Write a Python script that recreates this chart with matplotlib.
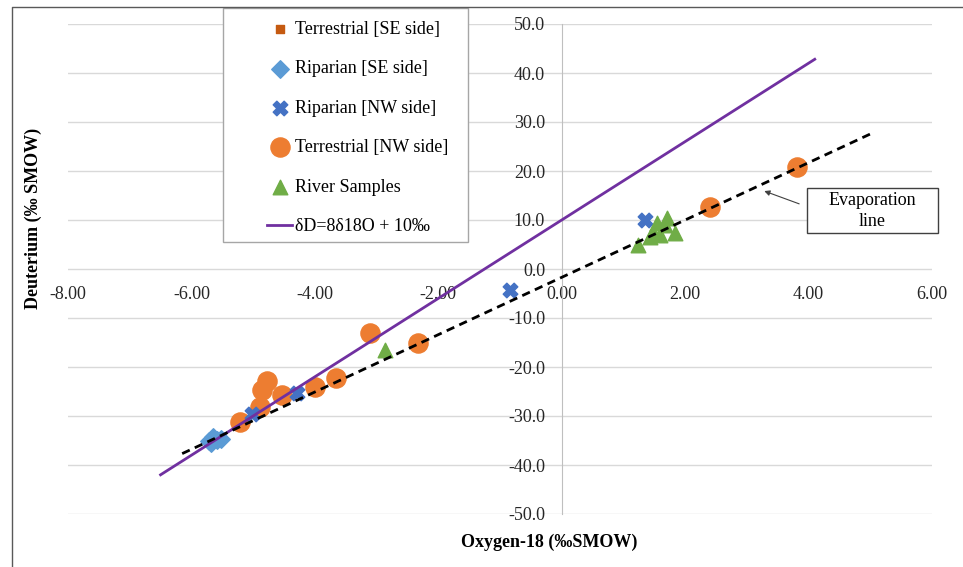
import matplotlib.pyplot as plt
import numpy as np
from matplotlib.patches import Rectangle
from matplotlib.lines import Line2D

plt.rcParams['font.family'] = ['Liberation Serif', 'DejaVu Serif']
plt.rcParams['font.size'] = 13

# data (delta 18O, delta D)
terr_se_x = [-4.77]
terr_se_y = [-23.7]

rip_se_x = [-5.72, -5.65, -5.58, -5.68, -5.52]
rip_se_y = [-35.0, -34.2, -34.8, -35.6, -34.6]

rip_nw_x = [1.35, -0.84, -4.29, -5.02]
rip_nw_y = [10.0, -4.3, -25.3, -29.6]

terr_nw_x = [3.81, 2.41, -2.33, -3.11, -3.65, -4.00, -4.54, -4.77, -4.85, -4.89, -5.22]
terr_nw_y = [20.8, 12.6, -15.1, -13.1, -22.2, -24.0, -25.8, -22.8, -24.6, -28.2, -31.2]

river_x = [-2.87, 1.23, 1.43, 1.48, 1.54, 1.59, 1.67, 1.70, 1.83]
river_y = [-16.5, 4.9, 6.5, 7.6, 9.4, 6.9, 9.0, 10.4, 7.3]

gmwl_x = [-6.5, 4.1]          # dD = 8 d18O + 10
gmwl_slope, gmwl_icpt = 8.0, 10.0
evap_x = [-6.15, 5.05]        # fitted evaporation line
evap_slope, evap_icpt = 5.85, -1.7

yticks = np.arange(-50, 51, 10)
xticks = np.arange(-8, 7, 2)

fig = plt.figure(figsize=(9.63, 5.67), dpi=100)
ax = fig.add_axes([68/963, 53/567, 864/963, 490/567])
ax.set_xlim(-8, 6)
ax.set_ylim(-50, 50)

# grid + axes through origin
for v in yticks:
    ax.axhline(v, color='#d9d9d9', lw=1, zorder=0)
for s in ['top', 'right', 'bottom']:
    ax.spines[s].set_visible(False)
ax.spines['left'].set_position(('data', 0))
ax.spines['left'].set_color('#bfbfbf')
ax.spines['bottom'].set_position(('data', 0))
ax.set_xticks(xticks)
ax.set_yticks(yticks)
ax.set_xticklabels(['%.2f' % v for v in xticks])
ax.set_yticklabels(['%.1f' % v for v in yticks])
ax.tick_params(axis='both', length=0, labelsize=13, colors='#262626')
ax.tick_params(axis='y', pad=12)
ax.tick_params(axis='x', pad=12)

h1 = ax.scatter(terr_se_x, terr_se_y, marker='s', s=30, color='#c55a11', zorder=2, label='Terrestrial [SE side]')
h2 = ax.scatter(rip_se_x, rip_se_y, marker='D', s=80, color='#5b9bd5', zorder=3, label='Riparian [SE side]')
h4 = ax.scatter(terr_nw_x, terr_nw_y, marker='o', s=190, color='#ed7d31', zorder=3, label='Terrestrial [NW side]')
h3 = ax.scatter(rip_nw_x, rip_nw_y, marker='X', s=110, color='#4472c4', zorder=3.5, label='Riparian [NW side]')
h5 = ax.scatter(river_x, river_y, marker='^', s=110, color='#70ad47', zorder=3.6, label='River Samples')

gx = np.array(gmwl_x)
h6, = ax.plot(gx, gmwl_slope*gx + gmwl_icpt, color='#7030a0', lw=2, zorder=4, label='\u03b4D=8\u03b418O + 10\u2030')
ex = np.array(evap_x)
ax.plot(ex, evap_slope*ex + evap_icpt, color='black', lw=2, ls=(0, (3, 2)), zorder=5)

# legend box
ax.add_patch(Rectangle((223/963, 1-242/567), 245/963, 234/567, transform=fig.transFigure,
                       facecolor='white', edgecolor='#a6a6a6', lw=1, zorder=6, clip_on=False))
leg = ax.legend(handles=[h1, h2, h3, h4, h5, h6], frameon=False, loc='upper left',
                bbox_to_anchor=(267/963, 1-21/567), bbox_transform=fig.transFigure,
                borderaxespad=0, borderpad=0, handlelength=1.4, handletextpad=0.15,
                labelspacing=1.24, fontsize=13, scatterpoints=1)
leg.set_zorder(7)
for h, s in zip(leg.legend_handles[:5], [30, 80, 110, 190, 110]):
    h.set_sizes([s])

# evaporation line callout
ax.annotate('', xy=(3.24, 16.1), xytext=(3.89, 13.1),
            arrowprops=dict(arrowstyle='-|>', color='#404040', lw=0.8, mutation_scale=8), zorder=6)
ax.add_patch(Rectangle((807/963, 1-233/567), 131/963, 45/567, transform=fig.transFigure,
                       facecolor='white', edgecolor='#404040', lw=1, zorder=6, clip_on=False))
fig.text(872/963, 1-211/567, 'Evaporation\nline', ha='center', va='center', fontsize=13,
         linespacing=1.35, zorder=7)

fig.text(549/963, 1-542/567, 'Oxygen-18 (\u2030SMOW)', ha='center', va='center', fontsize=13, fontweight='bold')
fig.text(33/963, 1-218/567, 'Deuterium (\u2030 SMOW)', ha='center', va='center', rotation=90, fontsize=13, fontweight='bold')

# outer frame (top and left edges visible)
fig.add_artist(Line2D([12/963, 12/963, 1], [0, 1-7/567, 1-7/567], transform=fig.transFigure, color='#595959', lw=1))

plt.savefig('out.png')
